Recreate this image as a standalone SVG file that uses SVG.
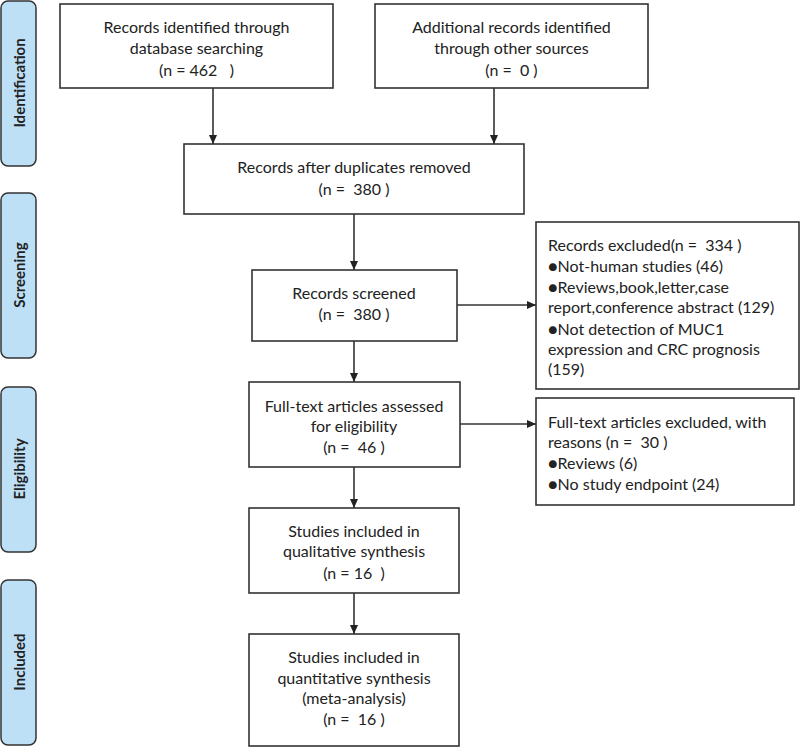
<svg xmlns="http://www.w3.org/2000/svg" width="800" height="748" viewBox="0 0 800 748">
<defs>
<marker id="ah" markerWidth="10" markerHeight="10" refX="9" refY="5" orient="auto" markerUnits="userSpaceOnUse">
<path d="M0,1 L9,5 L0,9 Z" fill="#222"/>
</marker>
<style>
.box{fill:#fff;stroke:#333;stroke-width:1.6}
.side{fill:#bde0f6;stroke:#333;stroke-width:1.5}
.t{font-family:Lato,"Liberation Sans",sans-serif;font-size:16px;fill:#222;text-anchor:middle}
.tl{font-family:Lato,"Liberation Sans",sans-serif;font-size:16px;fill:#222}
.s{font-family:Lato,"Liberation Sans",sans-serif;font-size:15px;font-weight:bold;fill:#222;text-anchor:middle}
.c{stroke:#333;stroke-width:1.6;fill:none;marker-end:url(#ah)}
</style>
</defs>
<rect width="800" height="748" fill="#fff"/>
<g id="side-identification"><rect class="side" x="1" y="1" width="35" height="165" rx="7"/><text class="s" transform="translate(25,83) rotate(-90)">Identification</text></g>
<g id="side-screening"><rect class="side" x="1" y="193" width="35" height="165" rx="7"/><text class="s" transform="translate(25,275) rotate(-90)">Screening</text></g>
<g id="side-eligibility"><rect class="side" x="1" y="387" width="35" height="165" rx="7"/><text class="s" transform="translate(25,469) rotate(-90)">Eligibility</text></g>
<g id="side-included"><rect class="side" x="1" y="580" width="35" height="165" rx="7"/><text class="s" transform="translate(25,662) rotate(-90)">Included</text></g>

<g id="n-db"><rect class="box" x="60" y="4" width="273" height="84"/>
<text class="t" x="196.5" y="33">Records identified through</text>
<text class="t" x="196.5" y="54">database searching</text>
<text class="t" x="196.5" y="76" xml:space="preserve">(n = 462   )</text></g>

<g id="n-other"><rect class="box" x="375" y="4" width="273" height="84"/>
<text class="t" x="511.5" y="33">Additional records identified</text>
<text class="t" x="511.5" y="54">through other sources</text>
<text class="t" x="511.5" y="76" xml:space="preserve">(n =  0 )</text></g>

<g id="n-dup"><rect class="box" x="184" y="144" width="340" height="70"/>
<text class="t" x="354" y="173">Records after duplicates removed</text>
<text class="t" x="354" y="195" xml:space="preserve">(n =  380 )</text></g>

<g id="n-screened"><rect class="box" x="252" y="270" width="205" height="71"/>
<text class="t" x="354" y="299">Records screened</text>
<text class="t" x="354" y="320" xml:space="preserve">(n =  380 )</text></g>

<g id="n-excl1"><rect class="box" x="536" y="222" width="263" height="167"/>
<text class="tl" x="548" y="251" xml:space="preserve">Records excluded(n =  334 )</text>
<text class="tl" x="548" y="272">●Not-human studies (46)</text>
<text class="tl" x="548" y="293">●Reviews,book,letter,case</text>
<text class="tl" x="548" y="313">report,conference abstract (129)</text>
<text class="tl" x="548" y="335">●Not detection of MUC1</text>
<text class="tl" x="548" y="355">expression and CRC prognosis</text>
<text class="tl" x="548" y="375">(159)</text></g>

<g id="n-fulltext"><rect class="box" x="249" y="382" width="211" height="85"/>
<text class="t" x="354" y="412">Full-text articles assessed</text>
<text class="t" x="354" y="432">for eligibility</text>
<text class="t" x="354" y="453" xml:space="preserve">(n =  46 )</text></g>

<g id="n-excl2"><rect class="box" x="536" y="398" width="258" height="107"/>
<text class="tl" x="548" y="428">Full-text articles excluded, with</text>
<text class="tl" x="548" y="448" xml:space="preserve">reasons (n =  30 )</text>
<text class="tl" x="548" y="469">●Reviews (6)</text>
<text class="tl" x="548" y="490">●No study endpoint (24)</text></g>

<g id="n-qual"><rect class="box" x="249" y="508" width="210" height="85"/>
<text class="t" x="354" y="537">Studies included in</text>
<text class="t" x="354" y="557">qualitative synthesis</text>
<text class="t" x="354" y="579" xml:space="preserve">(n = 16  )</text></g>

<g id="n-quant"><rect class="box" x="249" y="634" width="210" height="112"/>
<text class="t" x="354" y="663">Studies included in</text>
<text class="t" x="354" y="684">quantitative synthesis</text>
<text class="t" x="354" y="704">(meta-analysis)</text>
<text class="t" x="354" y="725" xml:space="preserve">(n =  16 )</text></g>

<g id="connectors">
<line class="c" x1="213" y1="88" x2="213" y2="144"/>
<line class="c" x1="494" y1="88" x2="494" y2="144"/>
<line class="c" x1="354" y1="214" x2="354" y2="270"/>
<line class="c" x1="457" y1="305" x2="536" y2="305"/>
<line class="c" x1="354" y1="341" x2="354" y2="382"/>
<line class="c" x1="460" y1="424" x2="536" y2="424"/>
<line class="c" x1="354" y1="467" x2="354" y2="508"/>
<line class="c" x1="354" y1="593" x2="354" y2="634"/>
</g>
</svg>
